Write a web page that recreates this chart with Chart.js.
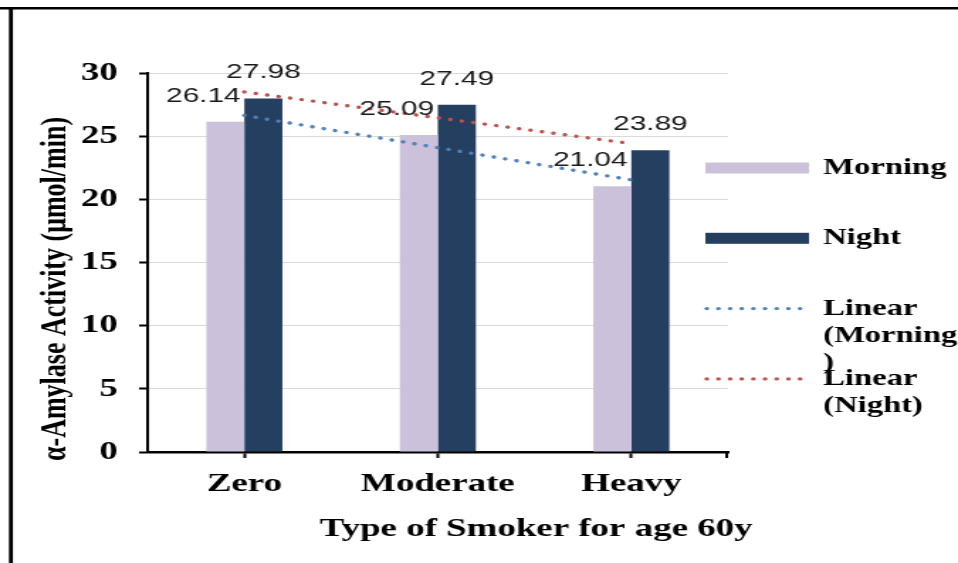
<!DOCTYPE html>
<html>
<head>
<meta charset="utf-8">
<title>α-Amylase Activity by Smoker Type</title>
<script src="https://cdn.jsdelivr.net/npm/chart.js@4.4.1/dist/chart.umd.min.js"></script>
<style>
  html, body { margin: 0; padding: 0; background: #fff; overflow: hidden; }
  /* the chart is laid out narrow and widened to the page width */
  #wrap { width: 675px; height: 563px; transform: scaleX(1.419259); transform-origin: 0 0; }
</style>
</head>
<body>
<div id="wrap"><canvas id="chart"></canvas></div>
<script>
// Categories and measured values (µmol/min)
const categories = ['Zero', 'Moderate', 'Heavy'];
const morning = [26.14, 25.09, 21.04];
const night = [27.98, 27.49, 23.89];
// Linear trend lines through each series
const trendMorning = [26.64, 24.09, 21.54];
const trendNight = [28.50, 26.45, 24.41];
// Value axis
const yMin = 0;
const yMax = 30;
const yStep = 5;
// Axis titles
const xTitle = 'Type of Smoker for age 60y';
const yTitle = 'α-Amylase Activity (μmol/min)';

const SERIF = '"Liberation Serif", "Times New Roman", serif';
const SANS = '"Liberation Sans", Arial, sans-serif';

Chart.defaults.font.family = SERIF;

// white page with the frame lines at the top and left
const framePlugin = {
  id: 'frame',
  beforeDraw(chart) {
    const { ctx, width, height } = chart;
    ctx.save();
    ctx.fillStyle = '#fff';
    ctx.fillRect(0, 0, width, height);
    ctx.strokeStyle = '#000';
    ctx.lineWidth = 2.5;
    ctx.beginPath();
    ctx.moveTo(0, 8.2);
    ctx.lineTo(width, 8.2);
    ctx.stroke();
    ctx.lineWidth = 2.8;
    ctx.beginPath();
    ctx.moveTo(7.7, 7);
    ctx.lineTo(7.7, height);
    ctx.stroke();
    ctx.restore();
  },
  afterDraw(chart) {
    // closing tick at the right end of the category axis
    const { ctx, chartArea } = chart;
    ctx.save();
    ctx.strokeStyle = '#000';
    ctx.lineWidth = 2;
    ctx.beginPath();
    ctx.moveTo(chartArea.right - 1, chartArea.bottom);
    ctx.lineTo(chartArea.right - 1, chartArea.bottom + 6);
    ctx.stroke();
    ctx.restore();
  }
};

// axis titles, placed freely around the plot
const axisTitlePlugin = {
  id: 'axisTitles',
  afterDraw(chart, args, opts) {
    const { ctx } = chart;
    ctx.save();
    ctx.font = opts.font;
    ctx.fillStyle = '#000';
    ctx.textAlign = 'center';
    ctx.textBaseline = 'middle';
    ctx.fillText(opts.x.text, opts.x.cx, opts.x.cy);
    ctx.translate(opts.y.cx, opts.y.cy);
    ctx.rotate(-Math.PI / 2);
    ctx.fillText(opts.y.text, 0, 0);
    ctx.restore();
  }
};

// value labels above the bars
const barLabelPlugin = {
  id: 'barLabels',
  afterDatasetsDraw(chart, args, opts) {
    const { ctx } = chart;
    ctx.save();
    ctx.font = opts.font;
    ctx.fillStyle = opts.color;
    ctx.textAlign = 'center';
    ctx.textBaseline = 'middle';
    chart.data.datasets.forEach((ds, i) => {
      if (ds.type !== 'bar') return;
      const meta = chart.getDatasetMeta(i);
      const dx = (opts.shift && opts.shift[i]) || 0;
      meta.data.forEach((bar, j) => {
        ctx.fillText(ds.data[j].toFixed(2), bar.x + dx, bar.y - opts.lift);
      });
    });
    ctx.restore();
  }
};

// legend column on the right
const sideLegendPlugin = {
  id: 'sideLegend',
  afterDraw(chart, args, opts) {
    const { ctx } = chart;
    ctx.save();
    ctx.font = opts.font;
    ctx.fillStyle = '#000';
    ctx.textAlign = 'left';
    ctx.textBaseline = 'middle';

    const wrap = (text) => {
      const lines = [];
      let line = '';
      text.split(' ').forEach(word => {
        const trial = line ? line + ' ' + word : word;
        if (ctx.measureText(trial).width <= opts.maxWidth) { line = trial; return; }
        if (line) lines.push(line);
        line = '';
        for (const ch of word) {
          const t = line + ch;
          if (ctx.measureText(t).width > opts.maxWidth && line) { lines.push(line); line = ch; }
          else line = t;
        }
      });
      if (line) lines.push(line);
      return lines;
    };

    chart.data.datasets.forEach((ds, i) => {
      const cy = opts.top + i * opts.step;
      if (ds.type === 'bar') {
        ctx.fillStyle = ds.backgroundColor;
        ctx.fillRect(opts.symbolX, cy - opts.barH / 2, opts.symbolW, opts.barH);
      } else {
        ctx.strokeStyle = ds.borderColor;
        ctx.lineWidth = ds.borderWidth;
        ctx.lineCap = 'round';
        ctx.setLineDash(ds.borderDash);
        ctx.beginPath();
        ctx.moveTo(opts.symbolX + 1, cy);
        ctx.lineTo(opts.symbolX + opts.symbolW - 2, cy);
        ctx.stroke();
        ctx.setLineDash([]);
      }
      ctx.fillStyle = '#000';
      wrap(ds.label).forEach((ln, k) => {
        ctx.fillText(ln, opts.textX, cy + k * opts.lineGap);
      });
    });
    ctx.restore();
  }
};

new Chart(document.getElementById('chart'), {
  type: 'bar',
  data: {
    labels: categories,
    datasets: [
      {
        type: 'bar', label: 'Morning', data: morning,
        backgroundColor: '#CCC1DA', borderWidth: 0,
        categoryPercentage: 0.393, barPercentage: 1, order: 1
      },
      {
        type: 'bar', label: 'Night', data: night,
        backgroundColor: '#243F60', borderWidth: 0,
        categoryPercentage: 0.393, barPercentage: 1, order: 1
      },
      {
        type: 'line', label: 'Linear (Morning)', data: trendMorning,
        borderColor: '#4F81BD', borderWidth: 3.4, borderDash: [0.01, 8.2],
        borderCapStyle: 'round', pointRadius: 0, fill: false, tension: 0, order: 0
      },
      {
        type: 'line', label: 'Linear (Night)', data: trendNight,
        borderColor: '#C0504D', borderWidth: 3.4, borderDash: [0.01, 8.2],
        borderCapStyle: 'round', pointRadius: 0, fill: false, tension: 0, order: 0
      }
    ]
  },
  options: {
    responsive: true,
    maintainAspectRatio: false,
    animation: false,
    events: [],
    layout: { padding: { left: 10, top: 73, right: 162, bottom: 0 } },
    plugins: {
      legend: { display: false },
      tooltip: { enabled: false },
      barLabels: { font: '21px ' + SANS, color: '#1a1a1a', lift: 26, shift: { 0: -15.5 } },
      sideLegend: {
        font: 'bold 23px ' + SERIF, symbolX: 497, symbolW: 73, barH: 11,
        textX: 580, top: 168, step: 70.3, lineGap: 27, maxWidth: 97
      },
      axisTitles: {
        font: 'bold 26px ' + SERIF,
        x: { text: xTitle, cx: 377.7, cy: 529 },
        y: { text: yTitle, cx: 39, cy: 289 }
      }
    },
    scales: {
      x: {
        offset: true,
        grid: { offset: false, drawOnChartArea: false, tickLength: 6, tickColor: '#000', tickWidth: 2 },
        border: { color: '#000', width: 2.5 },
        ticks: { font: { size: 26, weight: 'bold' }, color: '#000', padding: 11, maxRotation: 0 },
        title: { display: false, text: xTitle },
        afterFit(scale) { scale.height = 111; }
      },
      y: {
        min: yMin, max: yMax,
        ticks: { stepSize: yStep, font: { size: 26, weight: 'bold' }, color: '#000', padding: 15 },
        grid: { color: '#D9D9D9', lineWidth: 1, tickColor: '#000', tickLength: 6, tickWidth: 2 },
        border: { color: '#000', width: 2 },
        title: { display: false, text: yTitle },
        afterFit(scale) { scale.width = 94; }
      }
    }
  },
  plugins: [framePlugin, axisTitlePlugin, barLabelPlugin, sideLegendPlugin]
});
</script>
</body>
</html>
